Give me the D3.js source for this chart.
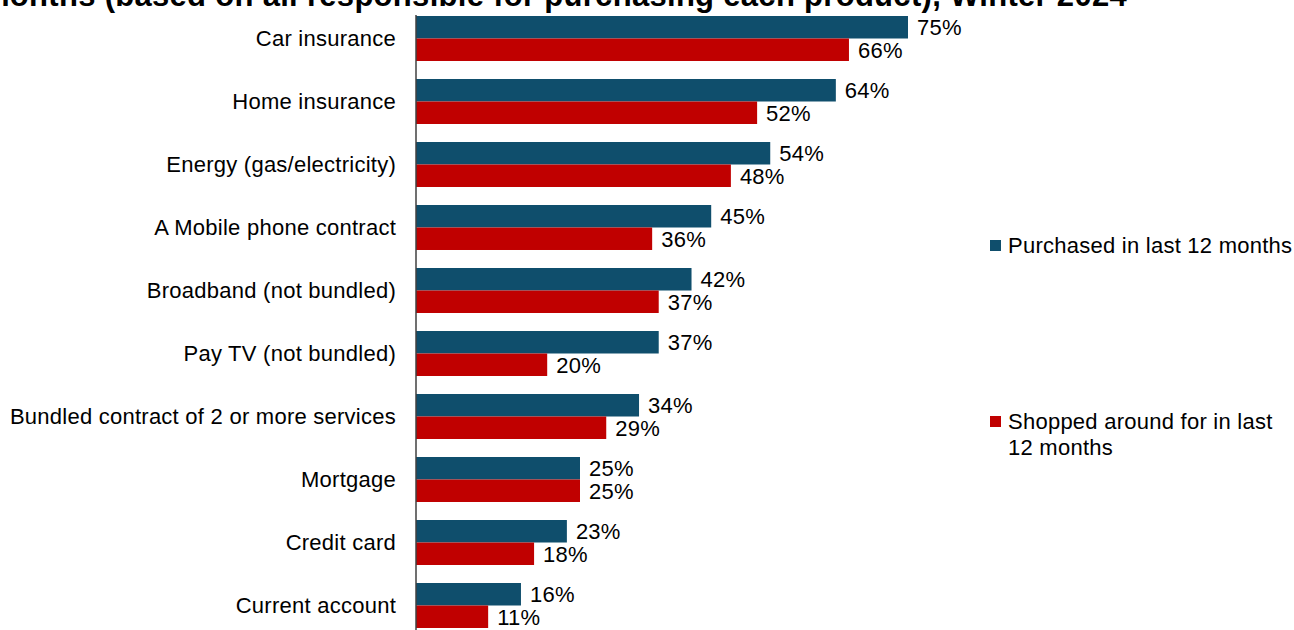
<!DOCTYPE html>
<html lang="en">
<head>
<meta charset="UTF-8">
<title>Purchased vs shopped around</title>
<script src="https://d3js.org/d3.v7.min.js"></script>
<style>
  body { margin: 0; background: #fff; }
  svg text { font-family: "Liberation Sans", Arial, sans-serif; fill: #000; letter-spacing: 0.25px; }
</style>
</head>
<body>
<svg id="chart" width="1294" height="630"></svg>
<script>
const categories = ["Car insurance", "Home insurance", "Energy (gas/electricity)", "A Mobile phone contract",
  "Broadband (not bundled)", "Pay TV (not bundled)", "Bundled contract of 2 or more services",
  "Mortgage", "Credit card", "Current account"];
const purchased = [75, 64, 54, 45, 42, 37, 34, 25, 23, 16];
const shopped = [66, 52, 48, 36, 37, 20, 29, 25, 18, 11];
const seriesNames = ["Purchased in last 12 months", "Shopped around for in last 12 months"];
const colors = ["#0f4e6c", "#c00000"];
const title = "Proportion who purchased and shopped around for each product in the last 12 months (based on all responsible for purchasing each product), Winter 2024";

const svg = d3.select("#chart");

// title, mostly cut off at the top edge
svg.append("text")
  .attr("x", 1127).attr("y", 6)
  .attr("text-anchor", "end")
  .style("font-weight", "bold")
  .style("font-size", "31px")
  .style("letter-spacing", "0.3px")
  .text(title);

const x = d3.scaleLinear().domain([0, 75]).range([416, 908]);
const y = d3.scaleBand().domain(categories).range([7, 637]).paddingInner(0.286).paddingOuter(0.143);
const inner = d3.scaleBand().domain([0, 1]).range([0, y.bandwidth()]);

const rows = categories.map((c, i) => ({ cat: c, vals: [purchased[i], shopped[i]] }));

const g = svg.selectAll(".grp").data(rows).join("g")
  .attr("class", "grp")
  .attr("transform", d => `translate(0,${y(d.cat)})`);

g.selectAll("rect").data(d => d.vals).join("rect")
  .attr("x", x(0))
  .attr("y", (v, j) => inner(j))
  .attr("width", v => x(v) - x(0))
  .attr("height", inner.bandwidth())
  .attr("fill", (v, j) => colors[j]);

g.selectAll(".val").data(d => d.vals).join("text")
  .attr("class", "val")
  .attr("x", v => x(v) + 9)
  .attr("y", (v, j) => inner(j) + inner.bandwidth() / 2)
  .attr("dy", "0.36em")
  .style("font-size", "22px")
  .text(v => v + "%");

// category labels
svg.append("g")
  .attr("transform", `translate(${x(0)},0)`)
  .call(d3.axisLeft(y).tickSize(0).tickPadding(20))
  .call(a => a.select(".domain").attr("stroke", "#404040").attr("stroke-width", 1.5).attr("d", `M0,15V630`))
  .call(a => a.selectAll("text").style("font-size", "22px").attr("fill", "#000"));

// legend
const legend = [
  { name: ["Purchased in last 12 months"], y: 245 },
  { name: ["Shopped around for in last", "12 months"], y: 421 }
];
legend.forEach((l, i) => {
  svg.append("rect").attr("x", 990).attr("y", l.y - 5).attr("width", 11).attr("height", 11).attr("fill", colors[i]);
  const t = svg.append("text").attr("x", 1008).attr("y", l.y).style("font-size", "22px");
  l.name.forEach((s, k) => t.append("tspan").attr("x", 1008).attr("dy", k === 0 ? "0.36em" : "26px").text(s));
});
</script>
</body>
</html>
